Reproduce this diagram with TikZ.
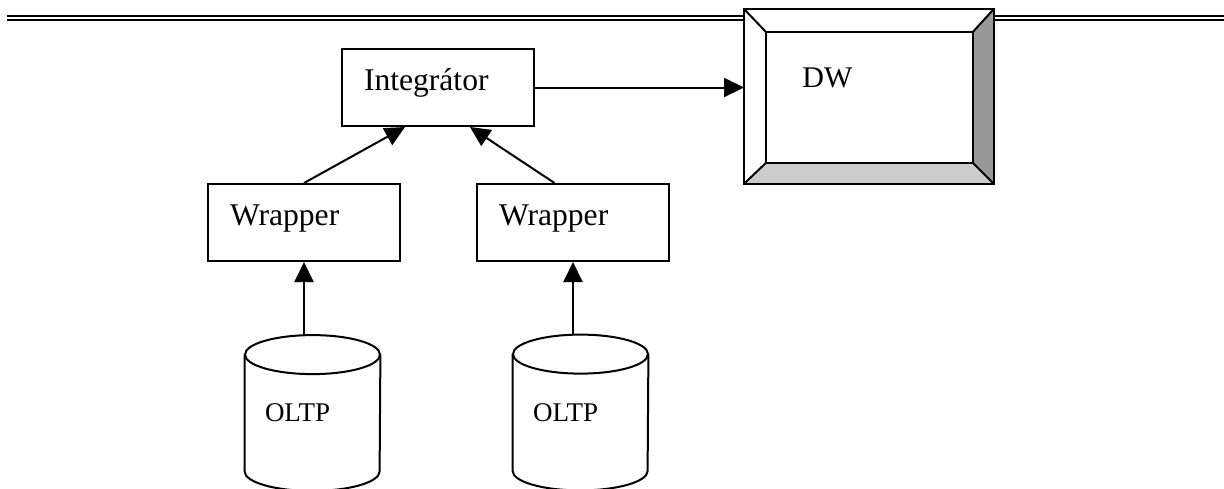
\documentclass[tikz,border=0pt]{standalone}
\usepackage{fontspec}
\setmainfont{Liberation Serif}
\usetikzlibrary{shapes.geometric,arrows.meta,positioning}

\begin{document}
\begin{tikzpicture}[
  x=0.5pt, y=-0.5pt,
  box/.style={rectangle, draw, line width=1pt, anchor=north west, align=left,
              inner xsep=11pt, inner ysep=0pt, text width=74pt,
              text height=20.5pt, text depth=18pt, font=\fontsize{15.8}{18}\selectfont},
  db/.style={rectangle, inner sep=0pt, minimum width=67.5pt, minimum height=77.5pt},
  dblabel/.style={anchor=west, xshift=10pt, inner sep=0pt, font=\fontsize{13.5}{16}\selectfont},
  arr/.style={-{Triangle[length=10pt,width=9.5pt]}, line width=1pt},
]
  \useasboundingbox (0,0) rectangle (1224,488);
  % rule at the top of the page
  \draw[double, double distance=1pt, line width=1pt] (7,17.7) -- (1224,17.7);

  \node[box] (integ) at (341,48)  {Integrátor};
  \node[box] (wl)    at (207,183) {Wrapper};
  \node[box] (wr)    at (476,183) {Wrapper};

  \node[db, label={[dblabel]west:OLTP}] (c1) at (312.5,413) {};
  \node[db, label={[dblabel]west:OLTP}] (c2) at (580.5,412.5) {};
  % cylinder outlines
  \foreach \n in {c1,c2} {
    \draw[line width=1pt] ([yshift=-9.75pt]\n.north) ellipse [x radius=33.75pt, y radius=9.75pt];
    \draw[line width=1pt] ([yshift=-9.75pt]\n.north west) -- ([yshift=9.75pt]\n.south west)
      arc[start angle=180, end angle=360, x radius=33.75pt, y radius=9.75pt]
      -- ([yshift=-9.75pt]\n.north east);
  }

  % data warehouse as a bevelled box
  \node[fill=white, inner sep=0pt, minimum width=124.5pt, minimum height=87pt,
        anchor=north west] (dw) at (744,9) {};
  \node[inner sep=0pt, minimum width=103pt, minimum height=65pt,
        anchor=north west] (dwin) at (766,32) {};
  \fill[black!40] (dw.north east) -- (dw.south east) -- (dwin.south east) -- (dwin.north east) -- cycle;
  \fill[black!20] (dw.south west) -- (dw.south east) -- (dwin.south east) -- (dwin.south west) -- cycle;
  \draw[line width=1pt] (dw.north west) rectangle (dw.south east)
                        (dwin.north west) rectangle (dwin.south east);
  \foreach \c in {north west, north east, south west, south east}
    \draw[line width=1pt] (dw.\c) -- (dwin.\c);
  \node[anchor=base west, inner sep=0pt, font=\fontsize{15}{18}\selectfont] (dwtext) at (802,87) {DW};

  \draw[arr] (integ.east) -- (integ.east -| dw.west);
  \draw[arr] (wl.north) -- ([xshift=-16.5pt]integ.south);
  \draw[arr] ([xshift=-9.25pt]wr.north) -- ([xshift=16pt]integ.south);
  \draw[arr] (wl |- c1.north) -- (wl.south);
  \draw[arr] (wr |- c2.north) -- (wr.south);
\end{tikzpicture}
\end{document}
